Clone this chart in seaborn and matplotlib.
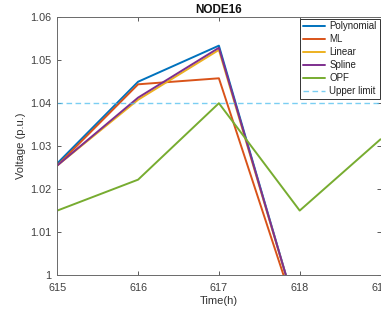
import numpy as np
import pandas as pd
import matplotlib
matplotlib.use("Agg")
import matplotlib.pyplot as plt
import seaborn as sns
from matplotlib.lines import Line2D

# ---- data ----
time = [615, 616, 617, 618, 619]
polynomial = [1.0260, 1.0450, 1.0534, 0.9890, np.nan]
ml = [1.0255, 1.0444, 1.0458, 0.9885, np.nan]
linear = [1.0255, 1.0408, 1.0524, 0.9890, np.nan]
spline = [1.0255, 1.0413, 1.0529, 0.9890, np.nan]
opf = [1.0150, 1.0222, 1.0400, 1.0150, 1.0316]
upper_limit = 1.04
series_names = ["Polynomial", "ML", "Linear", "Spline", "OPF"]
xticks = [615, 616, 617, 618, 619]
yticks = [1.00, 1.01, 1.02, 1.03, 1.04, 1.05, 1.06]
ytick_labels = ["1", "1.01", "1.02", "1.03", "1.04", "1.05", "1.06"]

colors = ["#0072BD", "#D95319", "#EDB120", "#7E2F8E", "#77AC30"]
limit_color = "#4DBEEE"

sns.set_theme(style="white")
plt.rcParams["font.family"] = ["Liberation Sans", "DejaVu Sans"]

rows = []
for name, vals in zip(series_names, [polynomial, ml, linear, spline, opf]):
    for t, v in zip(time, vals):
        if not np.isnan(v):
            rows.append({"Time": t, "Voltage": v, "Series": name})
df = pd.DataFrame(rows)

W, H = 381, 310
fig = plt.figure(figsize=(W / 100, H / 100), dpi=100)
left, right, bottom, top = 57.3, 380.5, 275.0, 17.3
ax = fig.add_axes([left / W, 1 - bottom / H, (right - left) / W, (bottom - top) / H])

sns.lineplot(data=df, x="Time", y="Voltage", hue="Series", hue_order=series_names,
             palette=colors, linewidth=1.4, ax=ax, legend=False)
ax.axhline(upper_limit, color=limit_color, linestyle=(0, (4, 2.5)), linewidth=1.0, alpha=0.75)

ax.set_xlim(615, 619)
ax.set_ylim(1.0, 1.06)
ax.set_xticks(xticks)
ax.set_yticks(yticks)
ax.set_yticklabels(ytick_labels)
ax.tick_params(direction="in", length=3, width=0.6, colors="#404040",
               labelsize=7.8, top=True, right=True, left=True, bottom=True)
ax.tick_params(axis="x", pad=6)
ax.tick_params(axis="y", pad=4)
for s in ax.spines.values():
    s.set_color("#6a6a6a")
    s.set_linewidth(0.7)
ax.set_xlabel("Time(h)", fontsize=8, color="#333333", labelpad=2)
ax.set_ylabel("Voltage (p.u.)", fontsize=8, color="#333333", labelpad=3)
ax.set_title("NODE16", fontsize=8.5, fontweight="bold", color="#111111", pad=3)

handles = [Line2D([], [], color=c, linewidth=1.4) for c in colors]
handles.append(Line2D([], [], color=limit_color, linestyle=(0, (4, 2.5)), linewidth=1.0, alpha=0.75))
labels = series_names + ["Upper limit"]
leg = fig.legend(handles, labels, loc="upper right",
                 bbox_to_anchor=(379.5 / W, 1 - 18.5 / H),
                 fontsize=7, frameon=True, fancybox=False, framealpha=1,
                 edgecolor="#333333", handlelength=2.3, handletextpad=0.4,
                 labelspacing=0.3, borderpad=0.3, borderaxespad=0)
leg.get_frame().set_linewidth(0.7)
for t in leg.get_texts():
    t.set_color("#222222")

fig.savefig("out.png", dpi=100)
